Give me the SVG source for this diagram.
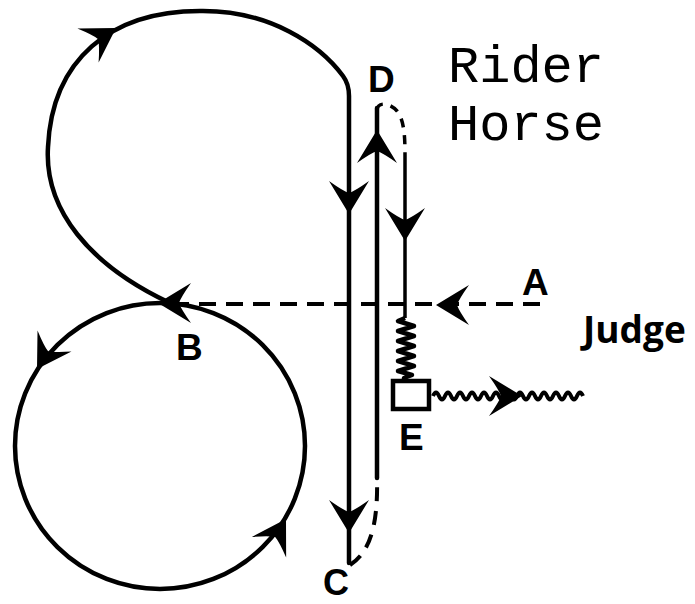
<svg xmlns="http://www.w3.org/2000/svg" xmlns:xlink="http://www.w3.org/1999/xlink" width="695" height="604" viewBox="0 0 695 604">
<style>
.ln{fill:none;stroke:#000;stroke-width:4.5;stroke-linecap:round;stroke-linejoin:round}
.thin{fill:none;stroke:#000;stroke-width:3.5}
.dash{fill:none;stroke:#000;stroke-width:4;stroke-dasharray:17 10}
.sdash{fill:none;stroke:#000;stroke-width:4;stroke-dasharray:14 10}
.lbl{font-family:"Liberation Sans",Arial,sans-serif;font-weight:bold;font-size:37px;fill:#000}
.mono{font-family:"Liberation Mono","Courier New",monospace;font-size:52px;fill:#000}
.judge{font-family:"Open Sans","Liberation Sans",sans-serif;font-weight:bold;font-size:37px;fill:#000}
.ah{fill:#000;stroke:none}
</style>
<defs>
<path id="ah" d="M0,0 L-33,-20 Q-23,-6 -21,0 Q-23,6 -33,20 Z"/>
</defs>
<rect width="695" height="604" fill="#fff"/>
<g id="connectors">
<path id="upper-loop" class="ln" d="M168,302 C90,265 44,210 48,147 C52,60 110,11 200,11 C270,10 320,45 343,76 Q349,84 349,96 L349,563"/>
<ellipse id="lower-circle" class="ln" cx="160" cy="446" rx="145" ry="143"/>
<path id="dashed-AB" class="dash" d="M540,304 L172,304"/>
<path id="c-turn" class="sdash" d="M350,565 C372,551 378,520 377,478"/>
<line id="line-up" class="ln" x1="377" y1="478" x2="377" y2="108"/>
<path id="d-turn" class="sdash" style="stroke-dasharray:9 8;stroke-width:3.5" d="M377,110 C378,101 390,103 397,111 C404,120 405,135 405,155"/>
<line id="line-down" class="thin" x1="405" y1="155" x2="405" y2="318"/>
<path id="spring" fill="none" stroke="#000" stroke-width="4.5" stroke-linejoin="round" d="M405,318 L398,321 L414,326 L398,331 L414,336 L398,341 L414,346 L398,351 L414,356 L398,361 L414,366 L398,371 L412,375 L404,378 L404,381"/>
<path id="wavy" fill="none" stroke="#000" stroke-width="4" d="M433,396 q3,-7 6,0 t6,0 t6,0 t6,0 t6,0 t6,0 t6,0 t6,0 t6,0 t6,0 t6,0 t6,0 t6,0 t6,0 t6,0 t6,0 t6,0 t6,0 t6,0 t6,0 t6,0 t6,0 t6,0 t6,0 t6,0"/>
<g id="arrowheads" class="ah">
<use xlink:href="#ah" href="#ah" transform="translate(116,28) rotate(-32)"/>
<use xlink:href="#ah" href="#ah" transform="translate(349,214) rotate(90)"/>
<use xlink:href="#ah" href="#ah" transform="translate(349,533) rotate(90)"/>
<use xlink:href="#ah" href="#ah" transform="translate(377,130) rotate(-90)"/>
<use xlink:href="#ah" href="#ah" transform="translate(405,241) rotate(90)"/>
<use xlink:href="#ah" href="#ah" transform="translate(436,305) rotate(180)"/>
<use xlink:href="#ah" href="#ah" transform="translate(158,303) rotate(180)"/>
<use xlink:href="#ah" href="#ah" transform="translate(37,369) rotate(122)"/>
<use xlink:href="#ah" href="#ah" transform="translate(286,519) rotate(-59)"/>
<use xlink:href="#ah" href="#ah" transform="translate(522,396) rotate(0)"/>
</g>
</g>
<g id="node-E-box"><rect x="393" y="381" width="36" height="28" fill="#fff" stroke="#000" stroke-width="4.5"/></g>
<g id="label-A"><text class="lbl" x="522" y="295">A</text></g>
<g id="label-B"><text class="lbl" x="176" y="360">B</text></g>
<g id="label-C"><text class="lbl" x="323" y="595" style="font-size:36px">C</text></g>
<g id="label-D"><text class="lbl" x="368" y="92">D</text></g>
<g id="label-E"><text class="lbl" x="399" y="450">E</text></g>
<g id="label-judge"><text class="judge" x="583" y="343">Judge</text></g>
<g id="legend">
<text class="mono" x="448" y="82">Rider</text>
<text class="mono" x="448" y="140">Horse</text>
</g>
</svg>
